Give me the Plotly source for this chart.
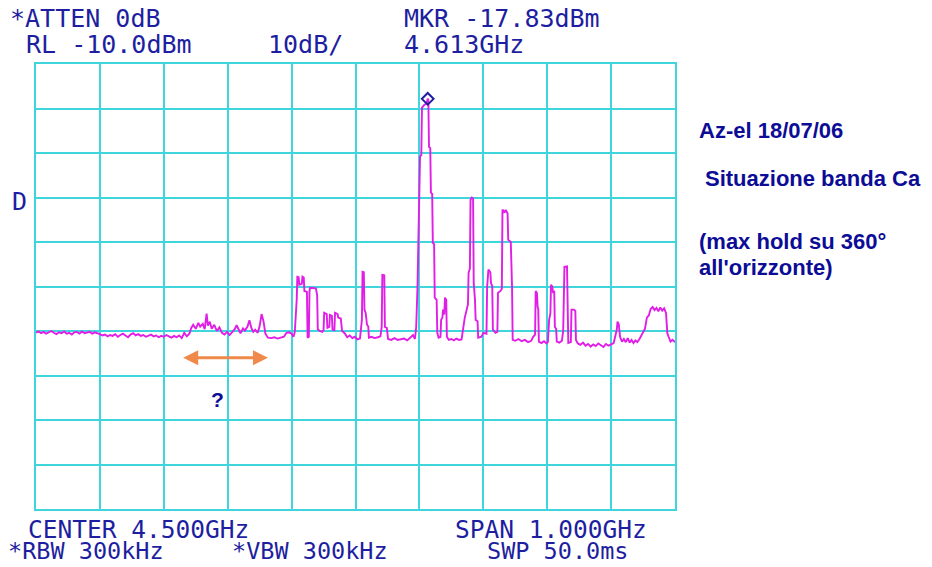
import plotly.graph_objects as go

# ---------------- data ----------------
freq_mhz = [
    4000, 4004, 4008, 4012, 4016, 4020, 4024, 4028, 4032, 4036, 4040, 4044, 4048, 4052, 4056, 4060,
    4064, 4068, 4072, 4076, 4080, 4084, 4088, 4092, 4096, 4100, 4104, 4108, 4112, 4116, 4120, 4124,
    4128, 4132, 4136, 4140, 4144, 4148, 4152, 4156, 4160, 4164, 4168, 4172, 4176, 4180, 4184, 4188,
    4192, 4196, 4200, 4204, 4208, 4212, 4216, 4220, 4224, 4228, 4232, 4236, 4240,
    4243, 4246, 4250, 4254, 4257, 4261, 4264, 4267, 4269, 4272, 4275, 4279, 4283, 4287, 4291, 4295,
    4299, 4303, 4307, 4311, 4314, 4317, 4320, 4324, 4327, 4331, 4334, 4337, 4340, 4343, 4347, 4350,
    4353, 4356, 4359, 4363, 4368, 4373, 4378, 4383, 4388, 4392, 4396, 4400, 4403, 4405, 4407, 4408,
    4409, 4411, 4412, 4416, 4417, 4419, 4420, 4424, 4425, 4427, 4428, 4429, 4438, 4440, 4441, 4444,
    4448, 4450, 4451, 4455, 4456, 4459, 4460, 4463, 4464, 4467, 4468, 4472, 4473, 4477, 4479, 4483,
    4487, 4491, 4495, 4499, 4503, 4507, 4510, 4511, 4513, 4514, 4516, 4518, 4520, 4521, 4525, 4530,
    4535, 4539, 4541, 4542, 4545, 4546, 4549, 4551, 4556, 4561, 4566, 4571, 4576, 4581, 4586, 4590,
    4593, 4595, 4597, 4598, 4599, 4600, 4601, 4603, 4604, 4606, 4608, 4611, 4613, 4614, 4615, 4617,
    4618, 4620, 4621, 4623, 4624, 4627, 4628, 4630, 4633, 4634, 4636, 4637, 4639, 4640, 4642, 4643,
    4646, 4650, 4654, 4658, 4662, 4666, 4668, 4671, 4674, 4676, 4677, 4679, 4680, 4682, 4684, 4685,
    4687, 4688, 4691, 4692, 4697, 4700, 4705, 4706, 4708, 4711, 4712, 4714, 4715, 4719, 4722, 4723,
    4727, 4729, 4730, 4733, 4735, 4738, 4739, 4743, 4745, 4746, 4750, 4755, 4760, 4765, 4770, 4775,
    4778, 4781, 4782, 4784, 4785, 4786, 4787, 4791, 4795, 4799, 4801, 4803, 4805, 4806, 4808, 4809,
    4811, 4812, 4814, 4815, 4819, 4823, 4825, 4826, 4827, 4831, 4833, 4837, 4838, 4842, 4844, 4845,
    4848, 4852, 4856, 4860, 4864, 4868, 4872, 4876, 4880, 4884, 4888, 4892, 4896, 4900, 4904, 4906,
    4909, 4910, 4912, 4914, 4917, 4920, 4923, 4926, 4929, 4932, 4935, 4938, 4941, 4944, 4947, 4950,
    4953, 4956, 4959, 4962, 4965, 4968, 4971, 4974, 4977, 4980, 4983, 4986, 4988, 4990, 4993, 4996,
    5000,
]
level_dbm = [
    -70.4, -70.1, -70.5, -70.2, -70.6, -70.3, -70.0, -70.4, -70.7, -70.3, -70.5, -70.1, -70.6, -70.4, -70.8, -70.3,
    -70.2, -70.6, -70.1, -70.5, -70.4, -70.2, -70.6, -70.3, -70.5, -70.7, -71.0, -70.8, -71.2, -70.9, -71.1, -70.7,
    -71.3, -70.9, -70.6, -71.0, -71.4, -70.8, -70.5, -71.0, -70.7, -71.1, -70.9, -71.3, -71.0, -70.8, -71.2, -71.0,
    -71.4, -71.1, -71.3, -70.9, -71.2, -71.5, -71.1, -71.4, -71.0, -71.6, -70.4, -71.2, -70.6,
    -69.3, -68.6, -69.5, -68.2, -69.0, -68.4, -69.6, -66.1, -68.8, -67.9, -69.5, -68.6, -70.0, -69.2, -70.4, -70.8,
    -70.2, -70.9, -70.3, -69.6, -68.7, -69.8, -70.5, -69.4, -69.9, -69.0, -67.6, -69.3, -70.2, -69.7, -70.4, -68.9,
    -66.2, -67.8, -70.6, -71.5, -71.6, -71.4, -71.7, -71.5, -71.3, -70.4, -70.3, -70.6, -71.3, -70.2, -66.5, -63.0,
    -57.8, -57.9, -59.6, -59.4, -57.8, -58.0, -61.0, -61.2, -71.5, -71.3, -61.0, -60.3, -60.4, -62.0, -69.6, -70.0,
    -70.2, -69.8, -65.9, -66.2, -69.3, -69.1, -66.4, -66.6, -69.7, -69.8, -65.9, -66.2, -67.0, -67.2, -70.0, -70.5,
    -71.4, -71.0, -71.6, -71.3, -71.9, -71.7, -67.5, -56.7, -56.8, -65.2, -66.0, -68.6, -69.0, -71.5, -71.3, -71.6,
    -71.4, -71.2, -69.1, -57.4, -57.5, -69.1, -69.3, -71.8, -72.0, -71.6, -72.0, -71.9, -71.7, -72.1, -71.5, -70.9,
    -71.8, -69.1, -60.1, -51.7, -38.9, -38.5, -30.8, -30.5, -19.8, -19.5, -19.1, -19.0, -17.8, -18.0, -28.6, -28.9,
    -38.9, -39.2, -50.2, -50.5, -62.5, -63.0, -70.4, -71.5, -71.3, -67.5, -67.0, -65.2, -66.3, -62.5, -63.0, -71.3,
    -72.0, -71.8, -72.1, -71.7, -72.0, -71.9, -69.7, -67.0, -65.2, -64.0, -56.9, -56.0, -40.5, -40.0, -40.2, -59.2,
    -63.0, -67.5, -67.8, -71.5, -71.3, -70.4, -70.6, -60.1, -56.2, -56.8, -59.2, -60.0, -69.7, -70.4, -70.2, -61.4,
    -61.0, -60.5, -42.7, -43.4, -42.8, -43.6, -49.5, -50.0, -60.1, -72.0, -72.2, -71.8, -72.3, -72.0, -72.5, -72.2,
    -71.3, -70.8, -61.0, -61.5, -64.6, -65.0, -72.4, -72.7, -72.3, -72.8, -72.5, -67.5, -66.0, -59.6, -60.0, -61.2,
    -61.0, -69.1, -69.5, -72.4, -72.6, -72.2, -70.0, -61.4, -55.6, -55.5, -72.7, -72.5, -65.2, -65.2, -65.5, -72.0,
    -72.8, -73.1, -72.6, -73.3, -72.9, -73.5, -73.0, -73.4, -72.8, -73.2, -73.6, -72.9, -73.3, -73.0, -72.7, -71.5,
    -69.6, -67.9, -68.5, -71.3, -72.4, -71.8, -72.5, -71.6, -72.6, -72.0, -72.7, -72.1, -72.5, -71.9, -71.1, -70.4,
    -69.5, -67.0, -66.5, -65.0, -64.6, -65.3, -64.8, -65.6, -64.7, -65.4, -64.9, -66.0, -70.5, -71.3, -72.4, -72.0,
    -72.5,
]
marker_freq_mhz = 4613
marker_level_dbm = -17.83
ref_level_dbm = -10.0
db_per_div = 10
center_mhz = 4500
span_mhz = 1000
question_band_mhz = [4228, 4363]
question_band_level_dbm = -76
question_label_level_dbm = -85.5

header_left = ["*ATTEN 0dB", "RL -10.0dBm"]
header_mid = "10dB/"
header_right = ["MKR -17.83dBm", "4.613GHz"]
footer_row1 = ["CENTER 4.500GHz", "SPAN 1.000GHz"]
footer_row2 = ["*RBW 300kHz", "*VBW 300kHz", "SWP 50.0ms"]
notes = ["Az-el 18/07/06", "Situazione banda Ca", "(max hold su 360°", "all'orizzonte)"]

# ---------------- layout geometry ----------------
W, H = 932, 567
L, R, T, B = 36, 675, 64, 509
GRID = "#3fd5dc"
TRACE = "#e01ee6"
BLUE = "#1e1ea0"
NOTE_BLUE = "#0c0c96"
MONO = "DejaVu Sans Mono"
SANS = "Liberation Sans"


def px(x):
    return (x - L) / (R - L)


def py(y):
    return (B - y) / (B - T)


fig = go.Figure()
fig.add_trace(go.Scatter(
    x=freq_mhz, y=level_dbm, mode="lines",
    line=dict(color=TRACE, width=1.9), hoverinfo="skip",
))
fig.add_trace(go.Scatter(
    x=[marker_freq_mhz], y=[marker_level_dbm], mode="markers",
    marker=dict(symbol="diamond-open", size=9, color=BLUE, line=dict(width=2, color=BLUE)),
    hoverinfo="skip",
))

xr = [center_mhz - span_mhz / 2, center_mhz + span_mhz / 2]
yr = [ref_level_dbm - 10 * db_per_div, ref_level_dbm]
axis_common = dict(showgrid=True, gridcolor=GRID, gridwidth=2, showline=True, mirror=True,
                   linecolor=GRID, linewidth=2, zeroline=False, showticklabels=False, ticks="")
fig.update_xaxes(range=xr, tick0=xr[0], dtick=span_mhz / 10, **axis_common)
fig.update_yaxes(range=yr, tick0=yr[0], dtick=db_per_div, **axis_common)

ann = []


def txt(text, x, y, size=25, color=BLUE, family=MONO, bold=False, xanchor="left", yanchor="middle"):
    if bold:
        text = "<b>" + text + "</b>"
    ann.append(dict(text=text, x=px(x), y=py(y), xref="paper", yref="paper",
                    xanchor=xanchor, yanchor=yanchor, showarrow=False,
                    font=dict(family=family, size=size, color=color)))


txt(header_left[0], 8, 19)
txt(header_left[1], 24, 45)
txt(header_mid, 266, 45)
txt(header_right[0], 402, 19)
txt(header_right[1], 402, 45)
txt("D", 10, 201)
txt(footer_row1[0], 26, 529, size=24.5)
txt(footer_row1[1], 453, 529, size=24.5)
txt(footer_row2[0], 6, H, size=23.5, yanchor="bottom")
txt(footer_row2[1], 230, H, size=23.5, yanchor="bottom")
txt(footer_row2[2], 485, H, size=23.5, yanchor="bottom")

txt(notes[0], 697, 130, size=22, color=NOTE_BLUE, family=SANS, bold=True)
txt(notes[1], 703, 178, size=22, color=NOTE_BLUE, family=SANS, bold=True)
txt(notes[2], 697, 241, size=22, color=NOTE_BLUE, family=SANS, bold=True)
txt(notes[3], 697, 267, size=22, color=NOTE_BLUE, family=SANS, bold=True)

# orange double arrow with question mark
ann.append(dict(x=question_band_mhz[1], y=question_band_level_dbm, ax=question_band_mhz[0],
                ay=question_band_level_dbm, xref="x", yref="y", axref="x", ayref="y",
                text="", showarrow=True, arrowhead=2, arrowside="end+start",
                arrowsize=1, arrowwidth=3, arrowcolor="#f08a4b"))
ann.append(dict(x=sum(question_band_mhz) / 2 - 12, y=question_label_level_dbm, xref="x", yref="y",
                text="<b>?</b>", showarrow=False,
                font=dict(family=SANS, size=21, color=NOTE_BLUE)))

fig.update_layout(
    width=W, height=H, autosize=False,
    margin=dict(l=L, r=W - R, t=T, b=H - B, pad=0),
    paper_bgcolor="white", plot_bgcolor="white",
    showlegend=False, annotations=ann,
)

fig.write_html("out.html", config={"displayModeBar": False},
               post_script="document.body.style.margin='0px';")
